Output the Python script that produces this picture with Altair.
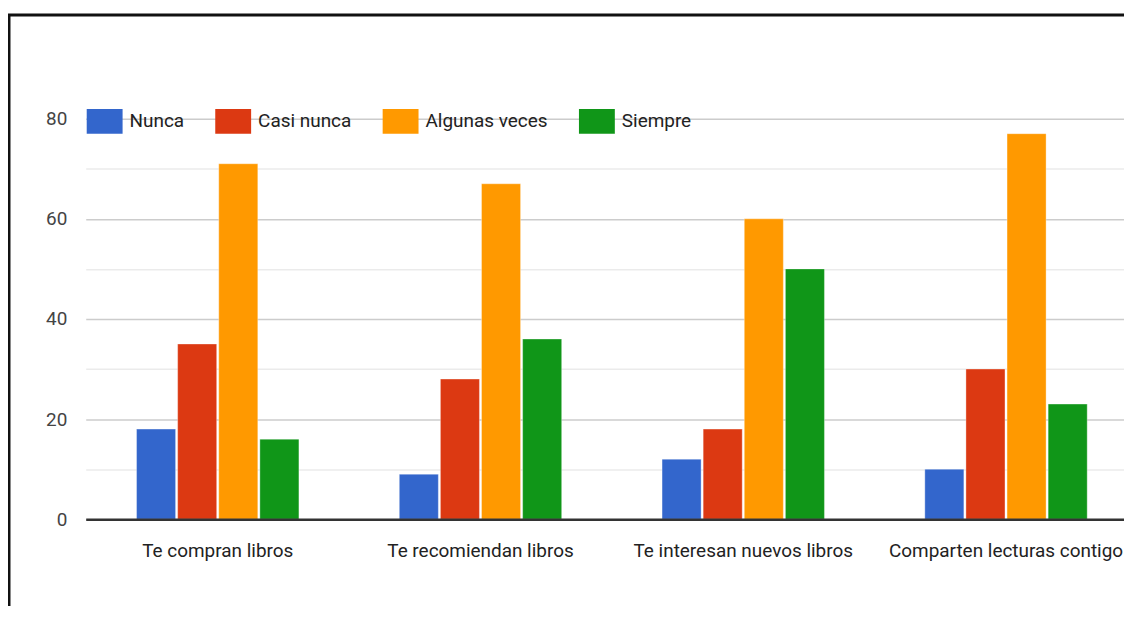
import altair as alt
import pandas as pd

categories = ["Te compran libros", "Te recomiendan libros",
              "Te interesan nuevos libros", "Comparten lecturas contigo"]
series = ["Nunca", "Casi nunca", "Algunas veces", "Siempre"]
nunca = [18, 9, 12, 10]
casi_nunca = [35, 28, 18, 30]
algunas_veces = [71, 67, 60, 77]
siempre = [16, 36, 50, 23]
colors = ["#3366cc", "#dc3912", "#ff9900", "#109618"]
y_ticks = [0, 10, 20, 30, 40, 50, 60, 70, 80]

rows = []
for s, vals in zip(series, [nunca, casi_nunca, algunas_veces, siempre]):
    for c, v in zip(categories, vals):
        rows.append({"categoria": c, "serie": s, "valor": v})
df = pd.DataFrame(rows)

FONT = "Roboto"
FS = 19
W, H = 1042, 402

bars = alt.Chart(df).mark_bar(stroke="white", strokeWidth=1, strokeOpacity=0.35).encode(
    x=alt.X("categoria:N", sort=categories, title=None,
            scale=alt.Scale(paddingInner=0.382, paddingOuter=0.1667, align=0.58),
            axis=alt.Axis(labelAngle=0, labelFont=FONT, labelFontSize=FS,
                          labelColor="#222", labelPadding=22, ticks=False,
                          domainColor="#333", domainWidth=2.5, zindex=1,
                          labelLimit=400)),
    xOffset=alt.XOffset("serie:N", sort=series,
                        scale=alt.Scale(paddingInner=0.05, paddingOuter=0)),
    y=alt.Y("valor:Q", title=None, scale=alt.Scale(domain=[0, 80], nice=False),
            axis=alt.Axis(values=y_ticks,
                          labelExpr="datum.value % 20 === 0 ? datum.label : ''",
                          ticks=False, domain=False, labelFont=FONT,
                          labelFontSize=FS, labelColor="#444", labelPadding=19,
                          gridColor={"condition": {"test": "datum.value % 20 === 0",
                                                   "value": "#cccccc"},
                                     "value": "#ebebeb"},
                          gridWidth=1.5)),
    color=alt.Color("serie:N", sort=series,
                    scale=alt.Scale(domain=series, range=colors),
                    legend=alt.Legend(title=None, orient="none", direction="horizontal",
                                      legendX=1, legendY=-15.5,
                                      symbolType="M-1,-0.69L1,-0.69L1,0.69L-1,0.69Z",
                                      symbolSize=1296, symbolStrokeWidth=0,
                                      labelFont=FONT, labelFontSize=FS,
                                      labelColor="#222", labelOffset=7,
                                      columnPadding=31, padding=0)),
)

one = pd.DataFrame({"k": [0]})
frame_left = alt.Chart(one).mark_rule(color="#111", strokeWidth=3).encode(
    x=alt.value(-77), y=alt.value(-105), y2=alt.value(H + 100))
frame_top = alt.Chart(one).mark_rule(color="#111", strokeWidth=3).encode(
    y=alt.value(-104), x=alt.value(-78), x2=alt.value(W + 20))

chart = alt.layer(bars, frame_left, frame_top).properties(
    width=W, height=H,
    autosize=alt.AutoSizeParams(type="none"),
    padding={"left": 78, "top": 110, "right": 0, "bottom": 86},
    background="white",
).configure_view(stroke=None)

chart.save("out.html", embed_options={"renderer": "svg", "actions": False})
